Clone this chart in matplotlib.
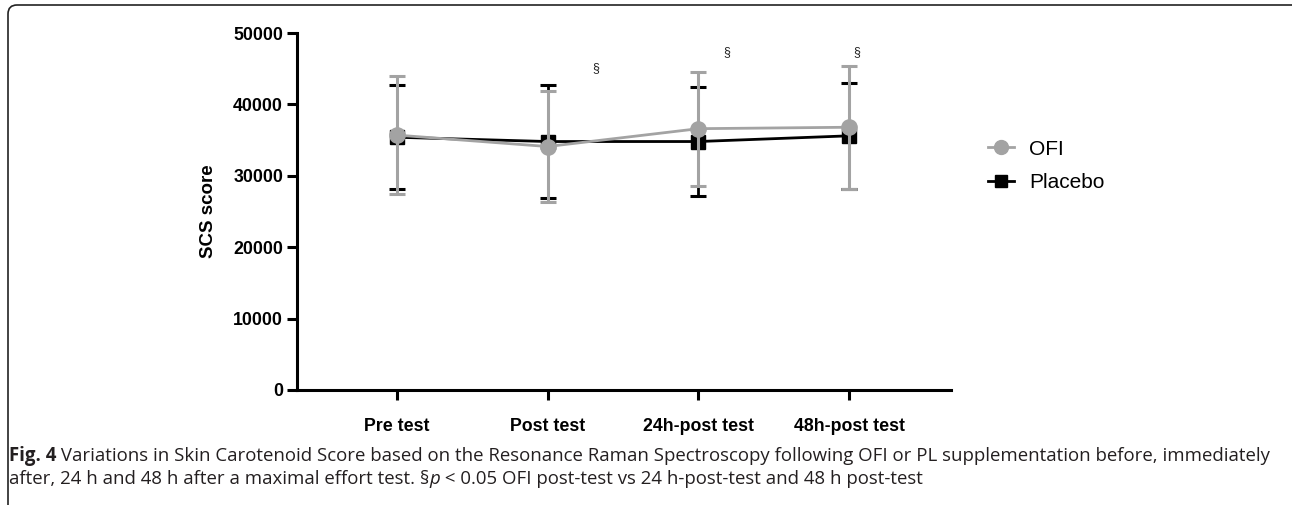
import matplotlib
matplotlib.use("Agg")
import matplotlib.pyplot as plt
from matplotlib.patches import FancyBboxPatch
from matplotlib.lines import Line2D
from matplotlib.transforms import IdentityTransform

# data (mean +/- SD of SCS score)
timepoints = ["Pre test", "Post test", "24h-post test", "48h-post test"]
ofiMean = [35700, 34100, 36600, 36800]
ofiSd = [8300, 7800, 8000, 8600]
placeboMean = [35400, 34800, 34800, 35600]
placeboSd = [7300, 7900, 7600, 7400]
# significance marks (x position in category units, y value)
sigX = [1.32, 2.19, 3.05]
sigY = [45100, 47300, 47300]

gray = "#a3a3a3"
W, H = 1292, 505

plt.rcParams["font.family"] = ["Liberation Sans", "DejaVu Sans"]
fig = plt.figure(figsize=(W / 100, H / 100), dpi=100)
ax = fig.add_axes([297 / W, 1 - 390 / H, (951 - 297) / W, (390 - 33) / H])

xs = list(range(len(timepoints)))
ax.errorbar(xs, placeboMean, yerr=placeboSd, color="black", lw=2, elinewidth=2,
            capsize=6, capthick=2.2, marker="s", ms=10, zorder=3)
ax.errorbar(xs, ofiMean, yerr=ofiSd, color=gray, lw=2, elinewidth=2.2,
            capsize=6, capthick=2.2, marker="o", ms=11, zorder=4)

for x, y in zip(sigX, sigY):
    ax.text(x, y, "§", ha="center", va="center", fontsize=9, color="#222222")

ax.set_xlim(-0.662, 3.675)
ax.set_ylim(0, 50000)
ax.set_yticks(range(0, 50001, 10000))
ax.set_xticks(xs)
ax.set_xticklabels(timepoints, fontweight="bold", fontsize=12.8)
for t in ax.get_yticklabels():
    t.set_fontweight("bold"); t.set_fontsize(12.8)
ax.tick_params(axis="both", width=2.2, length=7)
ax.tick_params(axis="y", pad=3)
ax.tick_params(axis="x", pad=13)
for s in ["top", "right"]:
    ax.spines[s].set_visible(False)
for s in ["left", "bottom"]:
    ax.spines[s].set_linewidth(2.2)
ax.set_ylabel("SCS score", fontweight="bold", fontsize=13.5, labelpad=12)

handles = [
    Line2D([], [], color=gray, lw=2, marker="o", ms=10),
    Line2D([], [], color="black", lw=2, marker="s", ms=9),
]
fig.legend(handles, ["OFI", "Placebo"], loc="center left",
           bbox_to_anchor=(969 / W, 1 - 166 / H), frameon=False,
           fontsize=15, handlelength=1.25, labelspacing=0.7, handletextpad=0.75)

# rounded frame of the figure panel (only top and left edges fall inside the image)
frame = FancyBboxPatch((8, -60), 1300, H - 5 + 60,
                       boxstyle="round,pad=0,rounding_size=9",
                       transform=IdentityTransform(), fill=False,
                       ec="#222222", lw=1.2)
fig.patches.append(frame)

# caption
capColor = "#231f20"
capFamily = ["Open Sans", "DejaVu Sans"]
line1 = [("Fig. 4", "bold", "normal"),
         (" Variations in Skin Carotenoid Score based on the Resonance Raman Spectroscopy "
          "following OFI or PL supplementation before, immediately", "normal", "normal")]
line2 = [("after, 24 h and 48 h after a maximal effort test. §", "normal", "normal"),
         ("p", "normal", "italic"),
         (" < 0.05 OFI post-test vs 24 h-post-test and 48 h post-test", "normal", "normal")]

renderer = fig.canvas.get_renderer()

def drawLine(pieces, x0, yBase, size):
    x = x0
    arts = []
    for txt, wt, st in pieces:
        t = fig.text(x / W, 1 - yBase / H, txt, fontsize=size, fontweight=wt,
                     fontstyle=st, family=capFamily, color=capColor, va="baseline")
        bb = t.get_window_extent(renderer)
        x += bb.width
        arts.append(t)
    return arts, x - x0

# fit the first line to the panel width seen in the reference
probe, wd = drawLine(line1, 9, 461, 11)
for a in probe:
    a.remove()
capSize = 11 * (1268 - 9) / wd
drawLine(line1, 9, 461, capSize)
drawLine(line2, 9, 484, capSize)

fig.savefig("out.png", dpi=100)
